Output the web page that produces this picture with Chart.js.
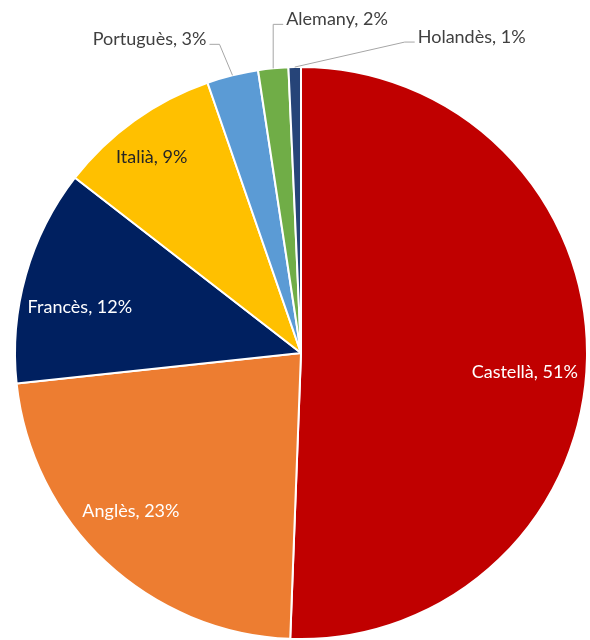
<!DOCTYPE html>
<html>
<head>
<meta charset="utf-8">
<script src="https://cdn.jsdelivr.net/npm/chart.js@4"></script>
<style>
  html, body { margin: 0; padding: 0; background: #fff; }
  #wrap { width: 590px; height: 640px; position: relative; }
</style>
</head>
<body>
<div id="wrap"><canvas id="pieChart"></canvas></div>
<script>
// Data (shares of the pie, in %)
const categories = ["Castellà", "Anglès", "Francès", "Italià", "Portuguès", "Alemany", "Holandès"];
const shares = [50.6, 22.7, 12.2, 9.2, 2.9, 1.7, 0.7];
const sliceColors = ["#C00000", "#ED7D31", "#002060", "#FFC000", "#5B9BD5", "#70AD47", "#264478"];

// label style per slice: inside text colour, or outside with a leader line
const insideText = ["#FFFFFF", "#FFFFFF", "#FFFFFF", "#262626", null, null, null];
const insideNudge = [[-5, 15], [-14, -9], [-1, 17], [-16, -10]];
// leader line: elbow offset from the slice edge, then a short tail
const leaders = [null, null, null, null,
    { elbow: [-13, -31], tail: -10, align: "right" },
    { elbow: [0, -44], tail: 10, align: "left" },
    { elbow: [110, -25], tail: 10, align: "left" }];

const FONT = '18px Lato, "Open Sans", sans-serif';

const pieLabels = {
    id: "pieLabels",
    afterDatasetsDraw(chart) {
        const ctx = chart.ctx;
        const meta = chart.getDatasetMeta(0);
        ctx.save();
        ctx.font = FONT;
        ctx.textBaseline = "middle";
        meta.data.forEach(function (arc, i) {
            const p = arc.getProps(["x", "y", "startAngle", "endAngle", "outerRadius"], true);
            const mid = (p.startAngle + p.endAngle) / 2;
            const text = categories[i] + ", " + Math.round(shares[i]) + "%";
            if (insideText[i]) {
                const r = p.outerRadius * 0.8;
                ctx.fillStyle = insideText[i];
                ctx.textAlign = "center";
                ctx.fillText(text, p.x + Math.cos(mid) * r + insideNudge[i][0],
                    p.y + Math.sin(mid) * r + insideNudge[i][1]);
            } else {
                const L = leaders[i];
                const sx = p.x + Math.cos(mid) * p.outerRadius;
                const sy = p.y + Math.sin(mid) * p.outerRadius;
                const ex = sx + L.elbow[0], ey = sy + L.elbow[1];
                const tx = ex + L.tail;
                ctx.strokeStyle = "#A6A6A6";
                ctx.lineWidth = 1;
                ctx.beginPath();
                ctx.moveTo(sx, sy);
                ctx.lineTo(ex, ey);
                ctx.lineTo(tx, ey);
                ctx.stroke();
                ctx.fillStyle = "#404040";
                ctx.textAlign = L.align;
                ctx.fillText(text, tx + (L.align === "left" ? 3 : -3), ey - 5);
            }
        });
        ctx.restore();
    }
};

new Chart(document.getElementById("pieChart").getContext("2d"), {
    type: "pie",
    data: {
        labels: categories,
        datasets: [{
            data: shares,
            backgroundColor: sliceColors,
            borderColor: "#FFFFFF",
            borderWidth: 2
        }]
    },
    options: {
        responsive: true,
        maintainAspectRatio: false,
        animation: false,
        layout: { padding: { top: 66, bottom: 0, left: 14, right: 2 } },
        plugins: {
            legend: { display: false },
            tooltip: { enabled: false }
        }
    },
    plugins: [pieLabels]
});
</script>
</body>
</html>
